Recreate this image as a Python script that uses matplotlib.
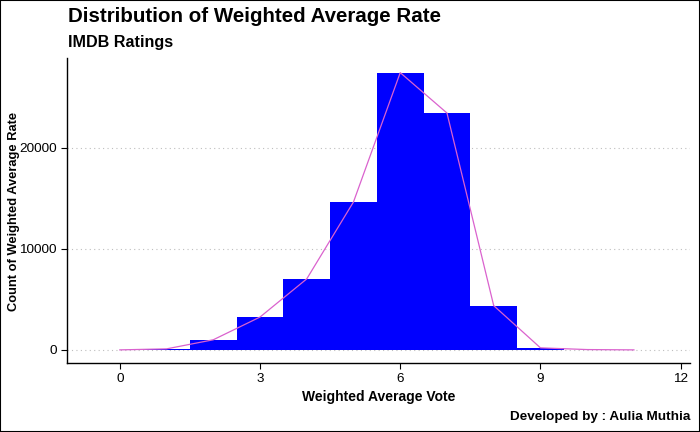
import matplotlib
matplotlib.use("Agg")
import matplotlib.pyplot as plt
from matplotlib.patches import Rectangle

plt.rcParams["font.family"] = ["Liberation Sans", "DejaVu Sans"]

# histogram bins (centre of each bar, binwidth = 1)
bin_centers = [1, 2, 3, 4, 5, 6, 7, 8, 9]
bin_counts = [100, 1000, 3250, 7030, 14650, 27450, 23450, 4380, 200]

# frequency polygon (same bins, padded with empty bins at both ends)
poly_x = [0, 1, 2, 3, 4, 5, 6, 7, 8, 9, 10, 11]
poly_y = [0, 100, 1000, 3250, 7030, 14650, 27450, 23450, 4380, 200, 30, 0]

y_ticks = [0, 10000, 20000]
x_ticks = [0, 3, 6, 9, 12]

fig = plt.figure(figsize=(7, 4.32), dpi=100)
ax = fig.add_axes([67 / 700, 1 - 363 / 432, (690 - 67) / 700, (363 - 58) / 432])

ax.bar(bin_centers, bin_counts, width=1.0, color="#0000FF", zorder=2)
ax.plot(poly_x, poly_y, color="#DA62CE", linewidth=0.9, zorder=3)

ax.set_xlim(-1.13, 12.2)
ax.set_ylim(-1300, 28900)
ax.set_xticks(x_ticks)
ax.set_yticks(y_ticks)
ax.tick_params(labelsize=9.7, colors="black", length=4, width=0.8)
ax.tick_params(axis="x", pad=3.5)

for y in y_ticks:
    ax.axhline(y, color="#BEBEBE", linestyle=(0, (1, 3)), linewidth=0.8, zorder=0)

for side in ["top", "right"]:
    ax.spines[side].set_visible(False)
for side in ["left", "bottom"]:
    ax.spines[side].set_linewidth(1.0)

ax.set_xlabel("Weighted Average Vote", fontsize=10, fontweight="bold", labelpad=3)
fig.text(14 / 700, 1 - 211 / 432, "Count of Weighted Average Rate", rotation=90,
         fontsize=9.3, fontweight="bold", va="center", ha="center")

fig.text(68 / 700, 1 - 17 / 432, "Distribution of Weighted Average Rate",
         fontsize=14.8, fontweight="bold", va="center", ha="left")
fig.text(68 / 700, 1 - 43 / 432, "IMDB Ratings",
         fontsize=11.6, fontweight="bold", va="center", ha="left")
fig.text(690 / 700, 1 - 417 / 432, "Developed by : Aulia Muthia",
         fontsize=9.7, fontweight="bold", va="center", ha="right")

# outer border
fig.patches.append(Rectangle((0, 0), 1, 1, transform=fig.transFigure,
                             fill=False, edgecolor="black", linewidth=1.5))

fig.savefig("out.png", dpi=100)
